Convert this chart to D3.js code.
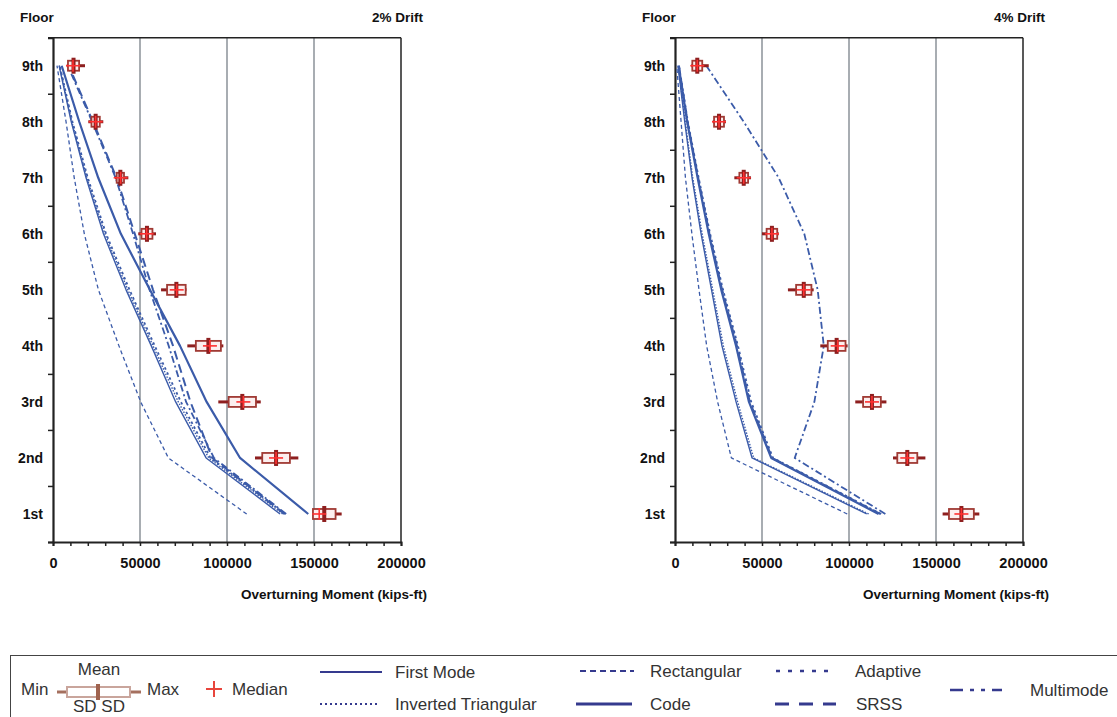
<!DOCTYPE html>
<html>
<head>
<meta charset="utf-8">
<script src="https://cdn.jsdelivr.net/npm/d3@7"></script>
<style>
  html, body { margin: 0; padding: 0; background: #ffffff; }
  svg { display: block; font-family: "Liberation Sans", Arial, sans-serif; }
</style>
</head>
<body>
<svg id="chart" width="1117" height="717"></svg>
<script>
// ---------------- DATA ----------------
const floorNums = [1, 2, 3, 4, 5, 6, 7, 8, 9];
const floorLabels = ["1st", "2nd", "3rd", "4th", "5th", "6th", "7th", "8th", "9th"];
const xTickValues = d3.range(0, 200001, 10000);
const xLabelValues = [0, 50000, 100000, 150000, 200000];
const gridValues = [50000, 100000, 150000];

// 2% drift pushover curves (floors 1..9)
const firstMode2 = [130500, 88000, 70500, 56500, 42000, 29000, 19000, 10500, 3500];
const invTri2    = [132000, 89500, 72000, 57500, 43000, 29800, 19500, 10800, 3700];
const rect2      = [111300, 66300, 50400, 37900, 26100, 18000, 12200, 7500, 2300];
const adaptive2  = [133500, 90500, 73500, 58500, 44000, 30500, 20000, 11200, 3900];
const code2      = [146700, 107500, 88300, 73000, 55700, 39000, 26000, 15100, 5000];
const srss2      = [133000, 91500, 79000, 69000, 57500, 47000, 36500, 23000, 9000];
const multi2     = [134000, 92500, 76500, 66500, 55500, 46000, 36000, 22500, 8500];

// 2% drift nonlinear time-history statistics (floors 1..9)
const min2    = [149300, 116100, 95000, 77200, 62100, 49000, 35600, 20300, 7900];
const max2    = [165900, 141000, 119400, 97900, 76700, 59200, 43300, 28900, 18400];
const mean2   = [155900, 128200, 108800, 89300, 70900, 54000, 38700, 24500, 11800];
const sd2     = [6500, 7950, 7850, 7200, 5350, 3150, 2100, 2400, 3200];
const median2 = [153000, 128200, 109400, 90200, 71100, 53800, 38900, 24500, 11500];

// 4% drift pushover curves (floors 1..9)
const firstMode4 = [110200, 44300, 35100, 27000, 21000, 15000, 9800, 5600, 1700];
const invTri4    = [111300, 45200, 36000, 27800, 21700, 15600, 10200, 5900, 1900];
const rect4      = [99000, 32400, 24500, 18200, 13800, 9700, 6000, 3500, 1000];
const adaptive4  = [118500, 56300, 43800, 36200, 27600, 20200, 13600, 7400, 2300];
const code4      = [117000, 55300, 42500, 35100, 26600, 19400, 13000, 7000, 2100];
const srss4      = [118000, 55800, 43000, 35600, 27100, 19800, 13300, 7200, 2200];
const multi4     = [120900, 68800, 80100, 85500, 82000, 74300, 59600, 39500, 18000];

// 4% drift nonlinear time-history statistics (floors 1..9)
const min4    = [153800, 125300, 103600, 83500, 64900, 50000, 34100, 21700, 9400];
const max4    = [174900, 143900, 121500, 99200, 79700, 59600, 43700, 29300, 19400];
const mean4   = [164600, 133500, 113200, 92900, 74000, 55700, 39500, 25300, 12800];
const sd4     = [7150, 5750, 5100, 5100, 4400, 3050, 2500, 2850, 2850];
const median4 = [164600, 133500, 113200, 93500, 74000, 55700, 39500, 25300, 12800];

// ---------------- STYLES ----------------
const lineColor = "#3b5ba9";
const legendLineColor = "#353a8e";
const seriesStyles = {
  "First Mode":          { w: 1.4, dash: null },
  "Inverted Triangular": { w: 1.4, dash: "1.5,1.5" },
  "Rectangular":         { w: 1.3, dash: "4,3" },
  "Adaptive":            { w: 1.8, dash: "2.5,3" },
  "Code":                { w: 2.2, dash: null },
  "SRSS":                { w: 2.0, dash: "9,5" },
  "Multimode":           { w: 1.8, dash: "7,3,2,3" }
};

const panels = [
  { x0: 53, title: "2% Drift",
    series: [["Rectangular", rect2], ["First Mode", firstMode2], ["Inverted Triangular", invTri2],
             ["Adaptive", adaptive2], ["Multimode", multi2], ["SRSS", srss2], ["Code", code2]],
    stats: { min: min2, max: max2, mean: mean2, sd: sd2, median: median2 } },
  { x0: 675, title: "4% Drift",
    series: [["Rectangular", rect4], ["First Mode", firstMode4], ["Inverted Triangular", invTri4],
             ["Adaptive", adaptive4], ["SRSS", srss4], ["Code", code4], ["Multimode", multi4]],
    stats: { min: min4, max: max4, mean: mean4, sd: sd4, median: median4 } }
];

const svg = d3.select("#chart");
const plotW = 348, yTop = 37.7, yBot = 542;
const y = d3.scaleLinear().domain([0.5, 9.5]).range([yBot, yTop]);

panels.forEach(p => {
  const x = d3.scaleLinear().domain([0, 200000]).range([p.x0, p.x0 + plotW]);
  const g = svg.append("g");

  // gridlines
  g.selectAll("line.grid").data(gridValues).enter().append("line")
    .attr("x1", d => x(d)).attr("x2", d => x(d))
    .attr("y1", yTop).attr("y2", yBot)
    .attr("stroke", "#8b9299").attr("stroke-width", 1.5);

  // frame top and right
  g.append("line").attr("x1", x(0)).attr("x2", x(200000)).attr("y1", yTop).attr("y2", yTop)
    .attr("stroke", "#222").attr("stroke-width", 1.5);
  g.append("line").attr("x1", x(200000)).attr("x2", x(200000)).attr("y1", yTop).attr("y2", yBot)
    .attr("stroke", "#222").attr("stroke-width", 1.5);

  // x axis
  const xAxis = d3.axisBottom(x).tickValues(xTickValues).tickSize(4).tickPadding(12)
    .tickFormat(d => xLabelValues.includes(d) ? String(d) : "");
  const gx = g.append("g").attr("transform", `translate(0,${yBot})`).call(xAxis);
  gx.select(".domain").attr("stroke", "#222").attr("stroke-width", 2);
  gx.selectAll(".tick line").attr("stroke", "#222").attr("stroke-width", 1.5);
  gx.selectAll(".tick text").attr("font-size", "14.5px").attr("font-weight", "bold")
    .attr("font-family", "'Liberation Sans', Arial, sans-serif").attr("fill", "#111");

  // y axis: boundary ticks
  const yAxis = d3.axisLeft(y).tickValues(d3.range(0.5, 9.6, 1)).tickSize(5).tickFormat("");
  const gy = g.append("g").attr("transform", `translate(${x(0)},0)`).call(yAxis);
  gy.select(".domain").attr("stroke", "#222").attr("stroke-width", 2.2);
  gy.selectAll(".tick line").attr("stroke", "#222").attr("stroke-width", 1.5);

  // y labels
  const yLab = d3.axisLeft(y).tickValues(floorNums).tickSize(0).tickPadding(10)
    .tickFormat((d, i) => floorLabels[floorNums.indexOf(d)]);
  const gyl = g.append("g").attr("transform", `translate(${x(0)},0)`).call(yLab);
  gyl.select(".domain").remove();
  gyl.selectAll(".tick text").attr("font-size", "14px").attr("font-weight", "bold")
    .attr("font-family", "'Liberation Sans', Arial, sans-serif").attr("fill", "#111");

  // header texts
  g.append("text").attr("x", x(0) - 33).attr("y", 17).attr("dominant-baseline", "central")
    .attr("font-size", "13.5px").attr("font-weight", "bold").attr("fill", "#111").text("Floor");
  g.append("text").attr("x", x(200000) + 22).attr("y", 17).attr("dominant-baseline", "central")
    .attr("text-anchor", "end")
    .attr("font-size", "13.5px").attr("font-weight", "bold").attr("fill", "#111").text(p.title);
  g.append("text").attr("x", x(200000) + 26).attr("y", 594).attr("dominant-baseline", "central")
    .attr("text-anchor", "end")
    .attr("font-size", "13.5px").attr("font-weight", "bold").attr("fill", "#111")
    .text("Overturning Moment (kips-ft)");

  // pushover curves
  const line = d3.line().x(d => x(d[1])).y(d => y(d[0])).curve(d3.curveLinear);
  p.series.forEach(([name, vals]) => {
    const st = seriesStyles[name];
    g.append("path")
      .datum(floorNums.map((f, i) => [f, vals[i]]))
      .attr("d", line)
      .attr("fill", "none")
      .attr("stroke", lineColor)
      .attr("stroke-width", st.w)
      .attr("stroke-dasharray", st.dash)
      .attr("stroke-linejoin", "round");
  });

  // box plots
  const s = p.stats;
  const bg = g.append("g");
  floorNums.forEach((f, i) => {
    const cy = y(f);
    const lo = s.mean[i] - s.sd[i], hi = s.mean[i] + s.sd[i];
    bg.append("line").attr("x1", x(s.min[i])).attr("x2", x(lo)).attr("y1", cy).attr("y2", cy)
      .attr("stroke", "#8e1f1f").attr("stroke-width", 3);
    bg.append("line").attr("x1", x(hi)).attr("x2", x(s.max[i])).attr("y1", cy).attr("y2", cy)
      .attr("stroke", "#8e1f1f").attr("stroke-width", 3);
    bg.append("rect").attr("x", x(lo)).attr("y", cy - 5)
      .attr("width", x(hi) - x(lo)).attr("height", 10)
      .attr("fill", "#fcefef").attr("stroke", "#a03a34").attr("stroke-width", 1.8);
    bg.append("rect").attr("x", x(s.mean[i]) - 2).attr("y", cy - 8)
      .attr("width", 4).attr("height", 16).attr("fill", "#8e1f1f");
    bg.append("line").attr("x1", x(s.median[i]) - 7).attr("x2", x(s.median[i]) + 7)
      .attr("y1", cy).attr("y2", cy).attr("stroke", "#ff3030").attr("stroke-width", 1.6);
    bg.append("line").attr("x1", x(s.median[i])).attr("x2", x(s.median[i]))
      .attr("y1", cy - 6).attr("y2", cy + 6).attr("stroke", "#ff3030").attr("stroke-width", 1.6);
  });
});

// ---------------- LEGEND ----------------
const lg = svg.append("g").attr("font-size", "17px").attr("fill", "#333");
lg.append("rect").attr("x", 10.5).attr("y", 655.5).attr("width", 1130).attr("height", 80)
  .attr("fill", "none").attr("stroke", "#444").attr("stroke-width", 1);

// box legend
const ly = 692;
lg.append("line").attr("x1", 57).attr("x2", 67).attr("y1", ly).attr("y2", ly).attr("stroke", "#a5705f").attr("stroke-width", 3);
lg.append("line").attr("x1", 130).attr("x2", 141).attr("y1", ly).attr("y2", ly).attr("stroke", "#a5705f").attr("stroke-width", 3);
lg.append("rect").attr("x", 67).attr("y", ly - 5).attr("width", 63).attr("height", 10)
  .attr("fill", "#fff").attr("stroke", "#c9a59c").attr("stroke-width", 2);
lg.append("rect").attr("x", 96).attr("y", ly - 8).attr("width", 4).attr("height", 16).attr("fill", "#a0634f");
const ltext = (x, yy, t, anchor) => lg.append("text").attr("x", x).attr("y", yy)
  .attr("dominant-baseline", "central").attr("text-anchor", anchor || "start").attr("fill", "#333").text(t);
ltext(21, 689, "Min");
ltext(147, 689, "Max");
ltext(99, 669, "Mean", "middle");
ltext(99, 706, "SD SD", "middle");
lg.append("line").attr("x1", 206).attr("x2", 222).attr("y1", 689).attr("y2", 689).attr("stroke", "#e8453c").attr("stroke-width", 2);
lg.append("line").attr("x1", 214).attr("x2", 214).attr("y1", 681).attr("y2", 697).attr("stroke", "#e8453c").attr("stroke-width", 2);
ltext(232, 689, "Median");

const legendItems = [
  { name: "First Mode", x1: 320, x2: 382, y: 672, w: 2, dash: null },
  { name: "Inverted Triangular", x1: 320, x2: 378, y: 704, w: 2, dash: "2,3" },
  { name: "Rectangular", x1: 580, x2: 634, y: 671, w: 2, dash: "6,4" },
  { name: "Code", x1: 576, x2: 632, y: 704, w: 3, dash: null },
  { name: "Adaptive", x1: 776, x2: 833, y: 671, w: 2.6, dash: "4,8" },
  { name: "SRSS", x1: 775, x2: 836, y: 704, w: 3, dash: "14,10" },
  { name: "Multimode", x1: 950, x2: 1002, y: 690, w: 2.5, dash: "13,7,4,7,4,7,13" }
];
const textX = { "First Mode": 395, "Inverted Triangular": 395, "Rectangular": 650, "Code": 650,
                "Adaptive": 855, "SRSS": 856, "Multimode": 1030 };
legendItems.forEach(it => {
  lg.append("line").attr("x1", it.x1).attr("x2", it.x2).attr("y1", it.y).attr("y2", it.y)
    .attr("stroke", legendLineColor).attr("stroke-width", it.w).attr("stroke-dasharray", it.dash);
  ltext(textX[it.name], it.y, it.name);
});
</script>
</body>
</html>
